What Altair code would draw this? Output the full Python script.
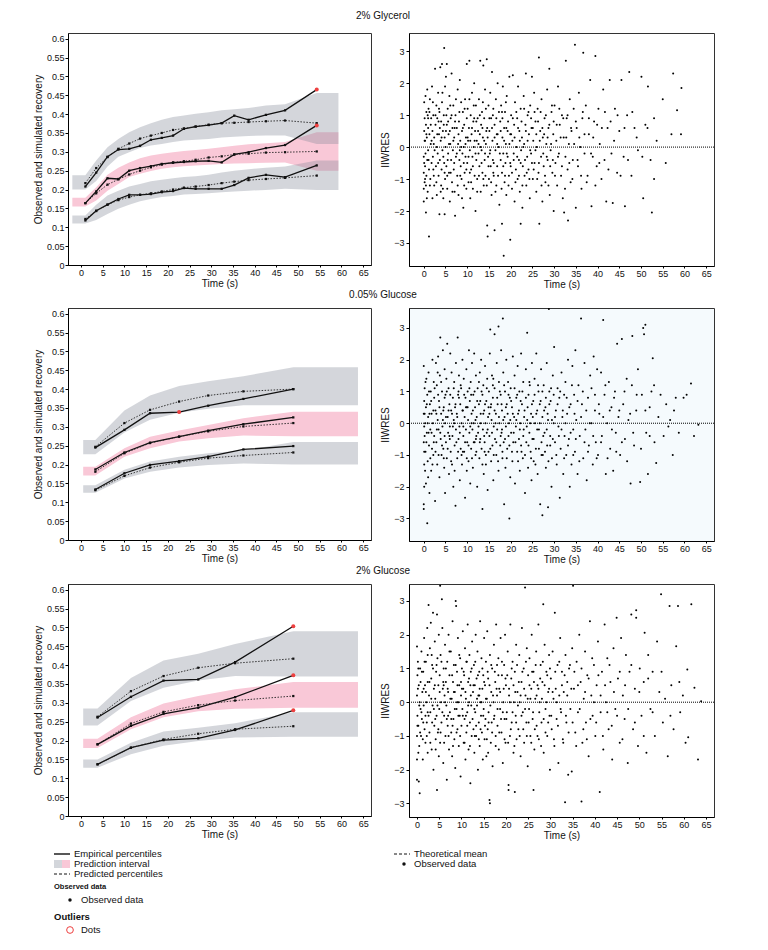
import altair as alt
import pandas as pd

FONT = "Liberation Sans"
PANEL_TITLES = ["2% Glycerol", "0.05% Glucose", "2% Glucose"]

# ---------------- VPC panel 1 : 2% Glycerol ----------------
G_BINS = [1.0, 3.5, 6.1, 8.6, 11.1, 13.6, 16.1, 18.6, 21.2, 23.7, 26.4, 29.4, 32.4, 35.3, 38.6, 42.6, 47.0, 54.3]
G_EDGES = [-2.0, 59.3]
G_EMP_HI = [0.208, 0.245, 0.287, 0.306, 0.308, 0.316, 0.332, 0.337, 0.343, 0.361, 0.367, 0.371, 0.376, 0.396, 0.385, 0.398, 0.410, 0.465]
G_PRED_HI = [0.217, 0.257, 0.286, 0.308, 0.322, 0.335, 0.343, 0.350, 0.358, 0.362, 0.367, 0.372, 0.376, 0.377, 0.379, 0.381, 0.383, 0.376]
G_EMP_MED = [0.164, 0.195, 0.230, 0.228, 0.250, 0.257, 0.262, 0.268, 0.271, 0.273, 0.275, 0.276, 0.272, 0.293, 0.299, 0.310, 0.318, 0.370]
G_PRED_MED = [0.164, 0.190, 0.213, 0.227, 0.240, 0.250, 0.259, 0.266, 0.272, 0.275, 0.279, 0.285, 0.288, 0.293, 0.295, 0.298, 0.299, 0.301]
G_EMP_LO = [0.118, 0.144, 0.160, 0.175, 0.186, 0.186, 0.188, 0.193, 0.196, 0.204, 0.202, 0.202, 0.202, 0.212, 0.231, 0.239, 0.233, 0.264]
G_PRED_LO = [0.122, 0.143, 0.160, 0.172, 0.180, 0.186, 0.190, 0.195, 0.200, 0.205, 0.208, 0.212, 0.217, 0.221, 0.225, 0.228, 0.231, 0.237]
G_PI_HI_LO = [0.200, 0.223, 0.261, 0.287, 0.299, 0.310, 0.317, 0.321, 0.326, 0.330, 0.332, 0.334, 0.338, 0.340, 0.342, 0.343, 0.343, 0.321]
G_PI_HI_HI = [0.238, 0.277, 0.312, 0.334, 0.352, 0.365, 0.376, 0.385, 0.392, 0.396, 0.401, 0.405, 0.410, 0.413, 0.416, 0.423, 0.426, 0.456]
G_PI_MED_LO = [0.155, 0.171, 0.197, 0.215, 0.233, 0.242, 0.249, 0.255, 0.259, 0.262, 0.264, 0.266, 0.268, 0.269, 0.270, 0.271, 0.272, 0.250]
G_PI_MED_HI = [0.178, 0.206, 0.239, 0.258, 0.272, 0.283, 0.290, 0.295, 0.299, 0.302, 0.305, 0.308, 0.312, 0.316, 0.320, 0.323, 0.326, 0.352]
G_PI_LO_LO = [0.110, 0.119, 0.135, 0.149, 0.160, 0.169, 0.175, 0.180, 0.183, 0.187, 0.188, 0.190, 0.193, 0.195, 0.197, 0.199, 0.202, 0.199]
G_PI_LO_HI = [0.131, 0.160, 0.184, 0.197, 0.208, 0.215, 0.222, 0.226, 0.230, 0.233, 0.235, 0.239, 0.245, 0.250, 0.254, 0.258, 0.261, 0.277]
G_OUTLIERS = [(54.3, 0.465), (54.3, 0.370)]

# ---------------- VPC panel 2 : 0.05% Glucose ----------------
L_BINS = [3.3, 10.0, 15.9, 22.6, 29.3, 37.4, 48.9]
L_EDGES = [0.5, 63.8]
L_EMP_HI = [0.245, 0.292, 0.336, 0.339, 0.356, 0.374, 0.400]
L_PRED_HI = [0.247, 0.310, 0.345, 0.367, 0.383, 0.394, 0.400]
L_EMP_MED = [0.187, 0.232, 0.258, 0.274, 0.290, 0.307, 0.325]
L_PRED_MED = [0.181, 0.230, 0.257, 0.274, 0.288, 0.301, 0.310]
L_EMP_LO = [0.134, 0.177, 0.199, 0.209, 0.221, 0.240, 0.249]
L_PRED_LO = [0.132, 0.170, 0.192, 0.206, 0.217, 0.224, 0.232]
L_PI_HI_LO = [0.227, 0.285, 0.319, 0.337, 0.348, 0.357, 0.357]
L_PI_HI_HI = [0.265, 0.343, 0.383, 0.408, 0.421, 0.434, 0.458]
L_PI_MED_LO = [0.171, 0.221, 0.243, 0.261, 0.270, 0.277, 0.275]
L_PI_MED_HI = [0.194, 0.243, 0.274, 0.290, 0.305, 0.323, 0.340]
L_PI_LO_LO = [0.125, 0.163, 0.181, 0.192, 0.199, 0.203, 0.200]
L_PI_LO_HI = [0.145, 0.186, 0.208, 0.221, 0.230, 0.237, 0.260]
L_OUTLIERS = [(22.6, 0.339)]

# ---------------- VPC panel 3 : 2% Glucose ----------------
H_BINS = [3.8, 11.5, 19.0, 27.0, 35.5, 48.9]
H_EDGES = [0.5, 63.8]
H_EMP_HI = [0.261, 0.316, 0.359, 0.362, 0.408, 0.503]
H_PRED_HI = [0.263, 0.331, 0.371, 0.393, 0.405, 0.417]
H_EMP_MED = [0.190, 0.239, 0.271, 0.287, 0.315, 0.373]
H_PRED_MED = [0.190, 0.245, 0.276, 0.294, 0.306, 0.318]
H_EMP_LO = [0.137, 0.181, 0.201, 0.206, 0.228, 0.280]
H_PRED_LO = [0.137, 0.181, 0.203, 0.218, 0.230, 0.238]
H_PI_HI_LO = [0.240, 0.305, 0.340, 0.359, 0.371, 0.370]
H_PI_HI_HI = [0.285, 0.366, 0.412, 0.430, 0.456, 0.490]
H_PI_MED_LO = [0.180, 0.230, 0.262, 0.278, 0.284, 0.287]
H_PI_MED_HI = [0.205, 0.262, 0.298, 0.318, 0.336, 0.355]
H_PI_LO_LO = [0.128, 0.164, 0.186, 0.199, 0.208, 0.210]
H_PI_LO_HI = [0.150, 0.194, 0.224, 0.234, 0.246, 0.275]
H_OUTLIERS = [(48.9, 0.503), (48.9, 0.373), (48.9, 0.280)]

# ---------------- IIWRES residuals (time, residual) ----------------
G_RES = [
(0.0,-0.3),(0.0,-0.8),(0.0,-1.3),(0.0,-1.7),(0.1,0.5),(0.1,-0.5),(0.1,1.4),(0.2,0.9),(0.2,-1.1),(0.3,0.2),(0.3,-0.6),(0.4,1.6),(0.4,-0.2),(0.5,0.7),(0.5,-2.05),(0.6,-0.9),(0.6,1.1),(0.7,0.3),(0.8,-0.4),(0.8,1.8),(0.9,-1.4),(1.0,0.6),(1.0,-0.1),(1.1,1.2),(1.2,-2.8),(1.2,-0.7),(1.3,0.4),(1.4,1.5),(1.5,-1.0),(1.6,0.1),(1.7,0.9),(1.8,-0.5),(1.9,1.9),(2.0,-1.6),(2.0,0.5),(2.1,-0.3),(2.2,1.0),(2.3,-0.9),(2.4,0.3),(2.4,-1.2),
(2.6,2.45),(2.7,0.7),(2.8,-0.6),(2.9,1.3),(3.0,-1.5),(3.0,0.0),(3.1,0.9),(3.2,-0.2),(3.3,1.7),(3.4,-0.9),(3.5,0.4),(3.6,-2.1),(3.6,1.1),(3.7,-0.4),(3.8,2.5),(3.9,0.2),(4.0,-1.2),(4.0,0.8),(4.1,-0.7),(4.2,2.6),(4.2,1.4),(4.3,-0.1),(4.4,0.5),(4.5,-1.6),(4.6,1.0),(4.7,3.1),(4.7,-0.5),(4.8,-2.1),(4.8,0.3),(4.9,1.9),(4.9,-1.0),
(5.0,0.0),(5.1,2.2),(5.2,-0.6),(5.3,2.6),(5.3,0.7),(5.4,-1.3),(5.5,1.2),(5.6,-0.2),(5.7,0.4),(5.8,-0.8),(5.9,1.6),(6.0,-1.7),(6.1,0.1),(6.2,0.9),(6.3,-0.4),(6.4,2.3),(6.5,-1.1),(6.6,0.6),(6.7,-0.1),(6.8,1.3),(6.9,-0.7),(7.0,0.3),(7.1,-1.4),(7.2,-2.15),(7.3,1.0),(7.4,-0.3),
(7.6,0.6),(7.7,-0.9),(7.8,1.8),(7.9,0.1),(8.0,-1.5),(8.1,0.8),(8.2,-0.4),(8.3,2.1),(8.4,0.2),(8.5,-0.6),(8.6,1.4),(8.7,-1.0),(8.8,0.5),(8.9,-0.2),(9.0,1.1),(9.1,-1.9),(9.2,0.0),(9.3,0.7),(9.4,-0.8),(9.5,1.5),(9.6,-0.3),(9.7,0.3),(9.8,-1.3),(9.9,0.9),(9.9,2.6),
(10.0,-0.5),(10.1,1.2),(10.2,0.2),(10.3,-1.1),(10.4,0.6),(10.5,2.7),(10.6,-0.1),(10.7,-1.6),(10.8,1.0),(10.9,-0.7),(11.0,0.4),(11.1,1.7),(11.2,-0.3),(11.3,-1.3),(11.4,0.8),(11.5,0.0),(11.6,2.0),(11.7,-0.9),(11.8,0.5),(11.9,-2.0),(12.0,1.3),(12.1,-0.4),(12.2,0.2),(12.3,-1.0),(12.4,0.9),
(12.6,-0.2),(12.7,1.5),(12.8,-0.6),(12.9,0.4),(13.0,2.7),(13.1,-1.4),(13.2,0.7),(13.3,-0.1),(13.4,1.1),(13.5,-0.8),(13.6,0.3),(13.7,2.55),(13.8,-1.2),(13.9,0.9),(14.0,-0.4),(14.1,1.8),(14.2,-0.9),(14.3,0.1),(14.5,2.75),(14.6,-2.45),(14.6,0.6),(14.7,-2.8),(14.8,-0.3),(14.9,1.3),
(15.0,-1.0),(15.1,0.5),(15.2,-0.2),(15.3,1.7),(15.4,-0.6),(15.5,0.9),(15.6,-1.5),(15.7,2.35),(15.8,0.2),(15.9,-0.4),(16.0,1.2),(16.1,-0.9),(16.3,-2.6),(16.3,0.7),(16.5,-0.1),(16.6,1.5),(16.7,-1.2),(16.8,0.4),(16.9,-0.6),(17.0,2.0),(17.2,0.0),(17.4,-1.8),
(17.6,0.8),(17.7,-0.4),(17.8,1.3),(18.0,-2.4),(18.0,-0.8),(18.1,0.3),(18.2,1.9),(18.3,-0.2),(18.4,-3.4),(18.5,0.6),(18.6,-1.1),(18.7,1.1),(18.8,-0.5),(18.9,0.1),(19.0,-1.5),(19.1,1.6),(19.3,-0.3),(19.4,0.8),(19.6,-0.9),(19.7,2.2),(19.9,-2.9),(19.9,0.4),
(20.0,-0.6),(20.1,1.0),(20.3,-1.3),(20.4,0.2),(20.5,2.25),(20.7,-0.2),(20.8,0.7),(20.9,-1.7),(21.0,1.4),(21.2,-0.7),(21.3,0.0),(21.5,0.9),(21.6,-1.0),(21.7,1.9),(21.9,-0.4),(22.0,0.5),(22.1,-1.4),(22.3,-2.4),(22.3,1.2),(22.4,-0.1),
(22.6,0.3),(22.7,-1.9),(22.8,-0.6),(23.0,1.6),(23.1,0.1),(23.2,-0.9),(23.4,0.7),(23.5,2.3),(23.6,-1.2),(23.8,-0.3),(23.9,1.0),(24.1,-0.7),(24.2,0.4),(24.4,-1.6),(24.5,1.3),(24.7,-0.2),(24.8,0.6),(24.9,2.2),
(25.1,-1.0),(25.2,0.2),(25.4,1.7),(25.5,-0.5),(25.7,0.8),(25.9,-1.4),(26.0,0.0),(26.2,1.2),(26.4,-0.8),(26.5,2.8),(26.6,-2.4),(26.8,0.5),(27.0,-0.3),(27.1,1.5),(27.3,-1.7),(27.4,0.3),
(27.6,-0.6),(27.8,0.9),(28.0,-1.1),(28.2,0.1),(28.4,1.8),(28.5,-0.4),(28.7,0.6),(28.9,2.45),(29.0,-1.5),(29.2,-0.1),(29.4,1.1),(29.6,-0.8),(29.8,0.4),(29.9,-2.0),
(30.1,1.3),(30.3,-0.5),(30.5,0.2),(30.7,-1.2),(30.9,1.9),(31.1,-0.2),(31.3,0.7),(31.6,-0.9),(31.8,1.0),(32.0,-1.6),(32.2,0.3),(32.3,-2.05),
(32.6,-0.3),(32.7,2.7),(32.9,0.9),(33.1,-0.7),(33.2,-2.3),(33.4,0.1),(33.6,1.5),(33.8,-1.1),(34.0,0.5),(34.3,-0.4),(34.5,1.2),(34.8,3.2),
(35.0,-1.9),(35.2,0.6),(35.5,-0.6),(35.7,1.7),(36.0,0.0),(36.3,-1.3),(36.5,0.9),(36.7,2.95),(37.0,-0.2),(37.3,1.3),
(37.7,-0.9),(38.0,0.4),(38.3,2.1),(38.6,-1.85),(38.9,-0.3),(39.2,0.8),(39.5,2.85),(39.8,-0.6),
(40.2,1.2),(40.5,0.1),(40.9,-1.0),(41.3,1.8),(41.6,-0.4),(42.0,-1.7),(42.3,0.6),(42.8,2.1),(43.2,-0.2),(43.5,-1.75),(44.0,1.2),(44.5,-0.8),
(45.0,0.5),(45.5,2.1),(46.0,-0.3),(46.3,-1.85),(46.8,1.0),(47.3,2.35),(47.8,-0.9),(48.5,0.6),(49.3,-0.1),
(50.1,2.2),(50.5,-1.6),(51.0,0.7),(51.6,1.9),(52.2,-0.4),(52.5,-2.05),(53.0,-1.0),(53.6,0.2),(55.0,1.5),(55.7,-0.5),(57.0,0.4),(57.4,2.3),(58.3,1.15),(59.2,0.4),(59.3,1.85),
]
G_RES_CORE = [
(0.2,0.2),(0.3,-1.0),(0.6,0.4),(0.7,-1.6),(0.9,1.0),(1.1,-0.4),(1.3,1.1),(1.4,-1.2),(1.6,0.7),(1.8,0.2),(2.1,1.4),(2.2,-0.7),(2.5,-0.1),(2.7,1.0),(2.9,-1.1),(3.1,0.4),(3.3,-0.5),(3.5,1.2),(3.7,0.6),(3.9,-1.4),(4.1,0.3),(4.3,1.7),(4.5,-0.3),(4.6,0.7),(4.8,-0.8),(1.0,0.9),(2.3,0.1),(3.4,0.8),(4.4,-1.3),(0.5,-1.2),
(5.1,0.5),(5.2,1.0),(5.4,-0.9),(5.6,0.8),(5.8,0.1),(6.0,0.5),(6.2,-0.8),(6.4,1.0),(6.6,-1.4),(6.8,0.2),(7.0,-0.5),(7.2,0.8),(7.4,1.5),(7.6,-0.2),(7.8,-1.2),(8.0,0.4),(8.2,1.1),(8.4,-0.9),(8.6,0.0),(8.8,-1.6),(9.0,0.6),(9.2,-0.5),(9.4,1.2),(9.6,0.1),(9.8,-0.7),(6.1,1.3),(7.1,0.6),(8.3,-0.1),(9.3,-1.2),(5.5,-0.4),
(10.1,0.3),(10.3,-0.3),(10.5,1.5),(10.7,0.2),(10.9,-1.1),(11.1,0.6),(11.3,-0.6),(11.5,1.3),(11.7,0.2),(11.9,-0.2),(12.1,0.8),(12.3,-1.4),(12.5,0.5),(12.7,-0.9),(12.9,1.0),(13.1,0.0),(13.3,-0.5),(13.5,0.6),(13.7,-1.0),(13.9,0.2),(14.1,-0.2),(14.3,1.2),(14.5,-1.2),(14.7,0.3),(14.9,-0.6),(10.6,-0.8),(11.6,0.9),(12.6,0.1),(13.6,1.4),(14.4,0.5),
(15.1,0.9),(15.3,-0.1),(15.5,-1.1),(15.7,0.6),(15.9,1.0),(16.1,-0.5),(16.3,0.3),(16.5,-1.4),(16.7,0.9),(16.9,0.1),(17.1,-0.9),(17.3,1.1),(17.5,-0.2),(17.7,0.5),(17.9,-1.3),(18.1,0.9),(18.3,-0.6),(18.5,0.2),(18.7,-0.9),(18.9,1.4),(19.1,-0.2),(19.3,0.5),(19.5,-1.2),(19.7,0.1),(19.9,-0.5),(16.0,-0.8),(17.0,0.4),(18.0,1.1),(19.0,0.6),
(20.1,0.4),(20.3,-0.8),(20.5,0.9),(20.7,-0.4),(20.9,0.3),(21.1,-1.1),(21.3,1.1),(21.5,-0.3),(21.7,0.6),(21.9,-0.9),(22.1,0.2),(22.3,-0.5),(22.5,0.8),(22.7,-1.2),(22.9,0.0),(23.1,1.2),(23.3,-0.4),(23.5,0.5),(23.7,-0.8),(23.9,0.2),(24.1,1.1),(24.3,-1.0),(24.5,-0.1),(24.7,0.9),(24.9,-0.5),
(25.1,0.6),(25.3,-0.7),(25.5,1.1),(25.7,-0.1),(25.9,0.4),(26.1,-1.0),(26.3,0.8),(26.5,-0.5),(26.7,0.2),(26.9,1.1),(27.1,-1.2),(27.3,0.6),(27.5,-0.2),(27.7,0.4),(27.9,-0.9),(28.1,1.0),(28.3,-0.3),(28.5,0.3),(28.7,-1.2),(28.9,0.7),(29.1,-0.6),(29.3,0.1),(29.5,1.3),(29.7,-0.4),(29.9,0.8),
(30.2,-0.9),(30.6,0.7),(30.9,-0.3),(31.2,1.2),(31.5,0.3),(31.8,-0.6),(32.1,0.9),(32.5,-1.3),(32.8,0.3),(33.1,1.0),(33.5,-0.5),(33.9,0.6),(34.2,-1.0),(34.6,0.1),(35.0,0.8),(35.4,-0.4),(35.8,0.3),(36.2,-0.9),(36.6,1.1),(37.0,0.4),(37.5,-1.1),(38.0,0.9),(38.5,-0.2),(39.0,0.3),(39.5,-1.2),(39.9,0.7),
(40.4,-0.5),(41.0,0.6),(41.7,1.1),(42.5,-0.7),(43.0,0.8),(43.8,0.2),(44.6,1.0),(45.3,-0.9),(46.2,0.6),(47.0,-0.4),(48.0,1.1),(49.0,0.3),(50.3,-0.3),(51.5,0.6),(53.0,0.9),
]

L_RES = [
(0.0,-2.7),(0.0,-2.55),(0.1,-2.0),(0.1,-1.3),(0.0,-0.6),(0.1,-0.1),(0.0,0.3),(0.1,0.7),(0.2,1.1),(0.0,1.8),(0.3,-1.5),(0.3,0.0),(0.4,-0.9),(0.5,0.5),(0.5,-1.9),(0.6,1.4),(0.7,-0.3),(0.8,-3.15),(0.8,0.9),(0.9,-1.2),(1.0,0.2),(1.1,1.6),(1.2,-0.7),(1.3,-2.2),(1.4,0.6),(1.5,-0.2),(1.6,1.0),(1.7,-1.5),(1.8,0.3),(1.9,-0.8),(2.0,2.0),(2.1,0.0),(2.2,-1.0),(2.3,1.3),(2.4,-0.4),(2.4,0.8),
(2.6,-2.45),(2.7,0.4),(2.8,1.9),(2.9,-0.6),(3.0,1.2),(3.1,-1.3),(3.2,0.1),(3.3,2.1),(3.4,-0.2),(3.5,0.7),(3.6,-1.7),(3.7,1.5),(3.8,2.7),(3.9,-0.5),(4.0,0.3),(4.1,-1.0),(4.2,1.0),(4.3,-0.1),(4.4,2.3),(4.5,-0.8),(4.6,0.5),(4.7,-1.4),(4.8,1.7),(4.9,-2.2),(4.9,0.0),(4.8,-0.4),
(5.0,0.9),(5.1,-0.6),(5.2,1.4),(5.3,-1.1),(5.4,2.5),(5.5,0.2),(5.6,-0.3),(5.7,1.1),(5.8,-1.6),(5.9,0.6),(6.0,-0.1),(6.1,2.2),(6.2,-0.9),(6.3,0.4),(6.4,1.6),(6.5,-1.3),(6.6,-0.4),(6.7,0.8),(6.8,-2.0),(6.9,0.1),(7.0,1.3),(7.1,-0.7),(7.2,0.5),(7.3,-2.6),(7.4,-0.2),(7.4,1.9),
(7.6,0.3),(7.7,-1.1),(7.8,2.7),(7.9,0.9),(8.0,-0.5),(8.1,1.5),(8.2,-0.1),(8.3,-1.8),(8.4,0.6),(8.5,-0.8),(8.6,1.1),(8.7,0.0),(8.8,-1.3),(8.9,2.0),(9.0,0.4),(9.1,-0.4),(9.2,1.4),(9.3,-0.9),(9.4,0.2),(9.5,-2.35),(9.6,0.8),(9.7,-0.2),(9.8,1.7),(9.9,-1.5),(9.9,0.5),
(10.0,-0.6),(10.1,1.0),(10.2,0.1),(10.3,-1.2),(10.4,2.3),(10.5,-0.3),(10.6,0.7),(10.7,-1.9),(10.8,1.3),(10.9,-0.8),(11.0,0.3),(11.1,1.9),(11.2,-0.2),(11.3,-1.4),(11.4,0.9),(11.5,0.0),(11.6,2.2),(11.7,-0.6),(11.8,0.5),(11.9,-1.0),(12.0,1.5),(12.1,-0.4),(12.2,0.2),(12.3,-2.0),(12.4,1.1),
(12.6,-0.1),(12.7,0.6),(12.8,-1.1),(12.9,1.6),(13.0,-0.5),(13.1,0.3),(13.2,2.0),(13.3,-0.8),(13.5,-2.7),(13.5,0.9),(13.6,-0.2),(13.7,1.2),(13.8,-1.6),(13.9,0.4),(14.0,-0.6),(14.1,1.8),(14.2,0.0),(14.3,-1.3),(14.4,0.7),(14.5,-0.3),(14.6,1.4),(14.7,-2.1),(14.8,0.2),(14.9,-0.9),
(15.0,1.0),(15.1,-0.4),(15.2,2.2),(15.3,2.95),(15.4,0.5),(15.5,-1.2),(15.6,0.1),(15.7,1.5),(15.8,-0.7),(15.9,0.8),(16.0,-1.8),(16.1,-0.1),(16.3,2.8),(16.3,1.1),(16.4,-0.5),(16.6,0.3),(16.7,-1.0),(16.8,1.9),(16.9,-0.2),(17.0,0.6),(17.2,3.05),(17.2,-1.5),(17.3,1.3),(17.4,0.0),
(17.6,-0.7),(17.7,0.9),(17.8,2.3),(17.9,-0.3),(18.0,0.4),(18.1,-1.1),(18.2,3.3),(18.3,1.6),(18.4,-0.6),(18.5,-2.55),(18.6,0.2),(18.7,1.0),(18.8,-1.4),(18.9,-0.1),(19.0,2.0),(19.1,0.6),(19.2,-0.8),(19.4,1.3),(19.5,-0.4),(19.6,0.0),(19.7,-3.0),(19.8,0.8),(19.9,-1.7),
(20.0,1.1),(20.1,-0.3),(20.3,0.5),(20.4,-1.2),(20.5,2.1),(20.6,-0.6),(20.8,0.2),(20.9,1.5),(21.0,-1.9),(21.2,-0.1),(21.3,0.8),(21.5,-0.9),(21.6,1.8),(21.7,0.3),(21.9,-0.5),(22.0,1.0),(22.1,-1.5),(22.2,0.0),(22.4,2.2),(22.4,-0.7),
(22.6,0.6),(22.8,-1.1),(22.9,1.3),(23.0,-0.2),(23.2,0.4),(23.3,-2.2),(23.5,1.7),(23.6,-0.6),(23.8,2.85),(23.8,0.1),(24.0,-1.4),(24.1,0.9),(24.3,-0.3),(24.4,1.2),(24.6,-0.9),(24.7,0.3),(24.8,-1.8),(24.9,1.9),
(25.0,-0.5),(25.2,0.7),(25.3,-1.2),(25.5,1.4),(25.6,0.0),(25.8,-0.8),(25.9,2.2),(26.1,0.4),(26.2,-1.6),(26.4,1.0),(26.5,-0.2),(26.7,0.6),(26.8,-2.55),(27.0,1.7),(27.1,-0.6),(27.3,-2.9),(27.3,0.2),(27.4,-1.0),
(27.6,1.2),(27.8,-0.3),(28.0,0.5),(28.1,-1.4),(28.3,1.9),(28.4,-0.7),(28.6,-2.65),(28.6,0.1),(28.8,3.6),(28.9,1.0),(29.1,-0.4),(29.2,0.7),(29.4,-2.0),(29.5,-1.1),(29.7,1.5),(29.9,0.0),
(30.0,2.4),(30.2,-0.6),(30.4,0.4),(30.6,-1.3),(30.8,1.1),(31.0,-0.1),(31.2,0.8),(31.3,-2.35),(31.5,-0.8),(31.7,1.6),(31.9,0.2),(32.1,-1.6),(32.3,0.9),(32.4,-0.4),
(32.6,1.3),(32.8,-1.0),(33.0,0.3),(33.2,2.0),(33.4,-0.5),(33.6,-2.0),(33.8,0.6),(34.0,-1.3),(34.2,1.8),(34.4,-0.2),(34.6,0.9),(34.8,-0.9),(34.9,2.3),
(35.1,0.1),(35.4,-1.6),(35.6,1.2),(35.9,-0.4),(36.2,3.3),(36.4,0.6),(36.7,-1.1),(37.0,1.9),(37.2,-0.2),(37.5,-1.8),(37.8,0.8),(38.0,-0.7),(38.3,1.5),(38.6,0.0),(38.9,-1.3),(39.1,2.1),(39.4,0.4),(39.6,-0.6),(39.9,1.7),
(40.1,-1.0),(40.4,0.3),(40.8,1.6),(41.0,-0.4),(41.3,3.25),(41.6,0.9),(41.9,-1.6),(42.2,0.0),(42.6,1.3),(42.9,-0.8),(43.2,0.5),(43.6,-1.5),(44.0,1.0),(44.2,-0.3),(44.5,2.5),(44.8,0.2),
(45.2,-1.0),(45.6,2.65),(45.9,0.6),(46.3,-0.5),(46.7,1.4),(47.1,0.1),(47.6,-1.9),(47.9,1.2),(48.0,2.75),(48.4,-0.7),(48.9,0.4),(49.3,1.7),(49.8,-1.85),
(50.2,0.9),(50.5,3.0),(50.7,2.8),(51.0,3.1),(51.2,-0.3),(51.6,-1.6),(52.0,0.5),(52.4,1.0),(52.7,2.05),(53.1,-0.6),(53.5,-1.25),(54.0,0.2),(54.5,0.9),
(55.2,-0.4),(55.8,0.6),(56.3,-0.1),(56.7,0.1),(57.3,-1.0),(57.6,0.4),(58.0,0.8),(58.7,-0.3),(59.8,0.8),(60.5,0.9),(61.5,1.25),(62.2,-0.4),(63.2,-0.05),
]
L_RES_CORE = [
(0.1,-0.9),(0.2,0.3),(0.2,-0.4),(0.4,1.3),(0.6,-0.6),(0.7,0.6),(0.9,0.0),(1.0,-1.7),(1.2,1.0),(1.3,0.3),(1.5,-1.1),(1.7,0.7),(1.8,-0.3),(2.0,-1.3),(2.2,0.4),(2.3,-0.6),(2.5,1.1),(2.7,-0.9),(2.9,0.3),(3.0,-0.2),(3.2,1.6),(3.4,-1.0),(3.6,0.5),(3.8,-0.3),(4.0,1.3),(4.2,-0.7),(4.4,0.1),(4.6,-1.1),(4.8,0.8),(1.1,-0.3),(3.3,0.9),(4.5,0.4),
(5.1,0.2),(5.3,1.0),(5.5,-0.8),(5.7,0.4),(5.9,-0.4),(6.1,0.9),(6.3,-1.2),(6.5,0.3),(6.7,-0.1),(6.9,1.1),(7.1,-1.5),(7.3,0.6),(7.5,-0.6),(7.7,0.2),(7.9,-0.9),(8.1,0.8),(8.3,-0.3),(8.5,1.2),(8.7,-1.0),(8.9,0.4),(9.1,-0.1),(9.3,0.9),(9.5,-0.6),(9.7,0.5),(9.9,-1.1),(6.0,-0.5),(7.0,0.0),(8.0,1.0),(9.0,-0.9),
(10.1,0.5),(10.3,-0.7),(10.5,1.1),(10.7,-0.1),(10.9,0.9),(11.1,-1.1),(11.3,0.4),(11.5,-0.6),(11.7,1.0),(11.9,0.1),(12.1,-0.9),(12.3,0.7),(12.5,-0.3),(12.7,1.3),(12.9,-0.6),(13.1,0.0),(13.3,1.0),(13.5,-1.3),(13.7,0.3),(13.9,-0.4),(14.1,0.6),(14.3,-1.0),(14.5,1.1),(14.7,-0.2),(14.9,0.5),(11.0,0.0),(12.0,-0.5),(13.0,0.7),(14.0,-0.9),
(15.1,0.3),(15.3,-0.8),(15.5,0.6),(15.7,-0.3),(15.9,1.2),(16.1,-1.0),(16.3,0.4),(16.5,0.0),(16.7,-0.6),(16.9,0.8),(17.1,-1.2),(17.3,0.2),(17.5,1.0),(17.7,-0.4),(17.9,0.6),(18.1,-0.9),(18.3,0.1),(18.5,1.2),(18.7,-0.5),(18.9,0.5),(19.1,-1.1),(19.3,0.3),(19.5,0.9),(19.7,-0.7),(19.9,0.1),(16.0,1.4),(18.0,-0.2),
(20.1,0.7),(20.3,-0.9),(20.5,0.3),(20.7,-0.3),(20.9,1.1),(21.1,-0.6),(21.3,0.1),(21.5,0.9),(21.7,-1.2),(21.9,0.4),(22.1,-0.2),(22.3,0.7),(22.5,-0.9),(22.7,1.0),(22.9,-0.4),(23.1,0.2),(23.3,-1.0),(23.5,0.8),(23.7,-0.1),(23.9,0.5),(24.1,-0.7),(24.3,1.3),(24.5,0.0),(24.7,-1.1),(24.9,0.6),
(25.1,0.2),(25.3,-0.5),(25.5,0.9),(25.7,-1.3),(25.9,0.3),(26.1,-0.2),(26.3,1.2),(26.5,-0.8),(26.7,0.0),(26.9,0.7),(27.1,-1.0),(27.3,1.0),(27.5,-0.4),(27.7,0.4),(27.9,-0.9),(28.1,0.8),(28.3,-0.2),(28.5,0.3),(28.7,-1.2),(28.9,0.6),(29.1,-0.7),(29.3,1.1),(29.5,0.1),(29.7,-0.5),(29.9,0.9),
(30.2,0.2),(30.5,-1.0),(30.8,0.6),(31.1,-0.4),(31.4,1.0),(31.7,-0.2),(32.0,0.4),(32.3,-1.1),(32.6,0.0),(32.9,0.8),(33.2,-0.7),(33.5,0.5),(33.8,-0.3),(34.1,1.2),(34.4,-1.0),(34.7,0.3),(35.0,-0.5),(35.4,0.7),(35.8,-1.2),(36.2,0.2),(36.6,1.0),(37.0,-0.6),(37.4,0.4),(37.8,-0.9),(38.2,0.0),(38.6,1.1),(39.0,-0.4),(39.4,0.9),(39.8,-1.1),
(40.3,0.6),(40.8,-0.6),(41.3,0.2),(41.8,1.2),(42.3,-1.1),(42.8,0.4),(43.3,-0.2),(43.8,0.8),(44.3,-0.9),(45.0,0.4),(45.6,-0.6),(46.2,1.0),(46.8,-1.2),(47.5,0.3),(48.2,-0.3),(49.0,0.9),(50.0,-0.8),(51.0,0.4),(52.0,-0.4),(53.0,1.2),
]

H_RES = [
(0.0,-2.3),(0.0,-1.7),(0.0,-1.0),(0.1,-0.4),(0.0,0.2),(0.1,0.8),(0.2,1.2),(0.0,1.65),(0.4,-2.35),(0.6,-2.7),(0.3,-0.7),(0.4,0.5),(0.5,-1.3),(0.6,0.0),(0.7,1.0),(0.8,-0.2),(0.9,-1.0),(1.0,1.5),(1.1,-0.5),(1.2,0.3),(1.3,-1.7),(1.4,0.9),(1.5,-0.1),(1.6,1.9),(1.7,-0.8),(1.8,0.5),(1.9,-1.2),(2.0,1.2),(2.1,0.0),(2.2,-0.6),(2.3,2.2),(2.4,0.6),(2.4,-1.5),(2.4,-0.3),
(2.6,2.88),(2.7,0.2),(2.8,-0.9),(2.9,1.6),(3.0,-0.3),(3.1,2.35),(3.2,0.7),(3.3,-1.4),(3.4,1.1),(3.5,-0.1),(3.6,2.65),(3.7,-2.0),(3.8,0.4),(3.9,-0.7),(4.0,1.8),(4.1,0.1),(4.2,-1.1),(4.3,0.9),(4.4,-0.4),(4.5,-2.6),(4.5,2.6),(4.6,1.3),(4.7,-0.9),(4.8,0.5),(4.9,-1.6),(4.9,2.0),
(5.0,-0.2),(5.1,0.8),(5.2,3.45),(5.2,-1.2),(5.3,1.4),(5.4,0.0),(5.5,-0.6),(5.6,3.05),(5.7,2.2),(5.8,0.4),(5.9,-1.8),(6.0,1.0),(6.1,-0.4),(6.2,0.2),(6.3,1.7),(6.4,-1.0),(6.5,0.6),(6.6,-0.1),(6.7,-2.3),(6.8,1.2),(6.9,-0.7),(7.0,0.3),(7.1,2.0),(7.2,-1.4),(7.3,0.8),(7.4,-0.3),
(7.6,1.5),(7.7,-0.9),(7.8,0.1),(7.9,-1.6),(8.0,2.4),(8.1,0.6),(8.2,-0.5),(8.3,1.1),(8.4,-1.1),(8.5,0.3),(8.6,-1.95),(8.7,3.0),(8.8,2.85),(8.9,-0.2),(9.0,0.9),(9.1,-0.8),(9.2,1.9),(9.3,0.0),(9.4,-1.3),(9.5,0.5),(9.6,-0.4),(9.7,1.3),(9.8,-2.2),(9.9,0.2),
(10.0,-0.7),(10.1,1.0),(10.2,-0.2),(10.3,2.1),(10.4,0.4),(10.5,-1.2),(10.6,0.8),(10.7,-0.5),(10.8,1.6),(10.9,-1.7),(11.0,0.1),(11.1,-0.9),(11.2,1.2),(11.3,-0.3),(11.4,2.3),(11.5,0.6),(11.6,-1.4),(11.7,0.0),(11.8,1.4),(11.9,-0.6),(12.0,-2.4),(12.1,0.9),(12.2,-0.1),(12.3,-1.0),(12.4,1.8),
(12.6,0.3),(12.7,-0.8),(12.8,1.1),(12.9,-1.5),(13.0,0.5),(13.1,-0.3),(13.2,2.0),(13.3,-1.0),(13.4,0.7),(13.5,-0.1),(13.6,1.5),(13.7,-2.0),(13.8,0.2),(13.9,-0.6),(14.0,0.9),(14.1,-1.3),(14.2,2.4),(14.3,0.0),(14.4,-0.4),(14.5,1.3),(14.6,-0.9),(14.7,0.4),(14.8,-1.7),(14.9,0.8),
(15.0,-0.2),(15.1,1.9),(15.2,-1.1),(15.3,0.5),(15.4,-0.5),(15.5,1.2),(15.6,-1.6),(15.7,0.1),(15.8,2.1),(15.9,-0.8),(16.0,0.7),(16.1,-0.3),(16.3,-2.9),(16.4,-2.99),(16.4,1.4),(16.6,-1.2),(16.7,0.3),(16.8,-0.6),(16.9,1.0),(17.0,-1.9),(17.2,0.0),(17.3,1.7),(17.4,-0.4),
(17.6,0.6),(17.7,-1.0),(17.8,2.3),(18.0,0.2),(18.1,-0.7),(18.3,1.3),(18.4,-1.4),(18.5,0.4),(18.7,-0.2),(18.8,1.9),(19.0,-0.9),(19.1,0.8),(19.3,-1.8),(19.4,0.0),(19.6,1.1),(19.7,-0.5),(19.8,2.0),(19.9,-1.2),
(20.0,0.5),(20.2,-0.3),(20.4,1.5),(20.6,-2.6),(20.6,-2.45),(20.7,0.2),(20.9,-1.0),(21.0,2.3),(21.2,0.7),(21.3,-0.6),(21.5,1.2),(21.7,-1.5),(21.8,0.0),(22.0,-2.66),(22.0,0.9),(22.2,-0.4),(22.3,1.7),(22.4,-1.1),
(22.6,0.3),(22.8,-0.8),(23.0,1.4),(23.1,0.0),(23.3,-1.6),(23.5,0.6),(23.6,2.2),(23.8,-0.3),(24.0,1.0),(24.1,-1.2),(24.3,3.4),(24.4,0.2),(24.6,-0.6),(24.7,1.6),(24.9,-1.9),
(25.0,0.8),(25.2,-0.2),(25.3,1.3),(25.5,-1.0),(25.7,0.4),(25.8,2.0),(26.0,-0.5),(26.2,-2.6),(26.2,0.9),(26.4,-1.4),(26.6,0.1),(26.8,1.5),(26.9,-0.7),(27.1,0.5),(27.3,2.3),(27.4,-1.1),
(27.6,0.0),(27.8,1.1),(28.0,-0.6),(28.2,0.6),(28.4,2.9),(28.5,-1.5),(28.7,1.7),(28.9,-0.2),(29.1,0.9),(29.3,-1.0),(29.5,0.3),(29.7,1.4),(29.8,-0.4),(29.9,-2.0),
(30.1,0.7),(30.3,-0.8),(30.5,1.5),(30.7,0.1),(30.9,-1.3),(31.0,2.65),(31.2,0.4),(31.4,-0.5),(31.6,1.1),(31.8,-1.8),(32.0,0.2),(32.2,1.9),(32.4,-0.3),
(32.6,0.9),(32.8,-1.1),(33.0,0.3),(33.3,-2.96),(33.4,1.4),(33.6,-0.6),(33.8,0.6),(34.0,-2.15),(34.2,1.0),(34.5,-0.2),(34.8,-2.05),(34.9,1.6),
(35.1,3.45),(35.3,0.4),(35.6,-0.9),(35.9,1.2),(36.2,-0.3),(36.5,2.0),(36.8,0.6),(37.0,-2.94),(37.2,-1.2),(37.5,0.1),(37.8,1.5),(38.0,-0.6),(38.3,0.8),(38.6,-1.6),(38.9,2.4),(39.2,0.2),(39.5,-0.4),(39.8,1.1),
(40.1,-1.0),(40.4,0.5),(40.7,1.8),(41.1,-2.66),(41.3,-0.3),(41.6,0.9),(41.9,-1.4),(42.2,2.3),(42.5,0.0),(42.8,1.3),(43.1,-0.8),(43.5,0.6),(43.9,-1.7),(44.2,1.6),(44.6,-0.2),(44.9,2.5),
(45.2,0.7),(45.6,-1.2),(45.9,1.9),(46.3,0.2),(46.7,-0.5),(47.0,1.4),(47.4,-1.8),(47.8,0.9),(48.2,2.6),(48.6,-0.8),(49.0,0.4),(49.3,2.72),(49.3,2.5),(49.7,-1.3),
(50.1,1.0),(50.5,-0.4),(51.0,0.6),(51.2,2.06),(51.6,-1.5),(52.0,1.4),(52.5,-0.2),(53.0,0.9),(53.5,-1.0),(54.0,1.8),(54.5,0.3),(54.9,3.2),(55.3,-0.6),(55.8,0.1),
(56.4,-1.6),(56.8,2.85),(57.2,0.5),(57.7,-0.8),(58.3,1.66),(58.7,2.85),(59.2,-0.3),(59.8,0.2),(60.4,-1.2),(60.8,0.97),(61.0,-1.04),(61.7,2.9),(62.4,0.43),(63.2,-1.7),(63.9,0.03),
]
H_RES_CORE = [
(0.1,-0.7),(0.2,0.4),(0.3,-1.5),(0.3,1.0),(0.5,-0.1),(0.7,-0.9),(0.8,0.6),(1.0,-0.3),(1.1,0.9),(1.3,-1.1),(1.5,0.4),(1.7,1.2),(1.9,-0.4),(2.0,0.3),(2.2,-1.0),(2.4,1.4),(2.6,-0.4),(2.8,0.6),(3.0,-1.2),(3.2,0.1),(3.4,-0.6),(3.6,1.0),(3.8,-0.2),(4.0,0.5),(4.2,-1.4),(4.4,1.1),(4.6,-0.1),(4.8,-0.8),(1.4,-0.6),(3.3,1.4),(4.1,-0.5),
(5.1,0.3),(5.3,-0.9),(5.5,1.2),(5.7,-0.3),(5.9,0.6),(6.1,-1.2),(6.3,0.0),(6.5,1.0),(6.7,-0.5),(6.9,0.4),(7.1,-1.0),(7.3,1.5),(7.5,0.1),(7.7,-0.5),(7.9,0.8),(8.1,-1.3),(8.3,0.3),(8.5,-0.2),(8.7,1.1),(8.9,-0.9),(9.1,0.5),(9.3,-0.4),(9.5,1.4),(9.7,-1.0),(9.9,0.6),(6.0,0.5),(7.0,-0.4),(8.0,-0.7),(9.0,0.0),
(10.1,0.4),(10.3,-0.4),(10.5,0.9),(10.7,-1.2),(10.9,0.3),(11.1,1.2),(11.3,-0.7),(11.5,-0.1),(11.7,0.7),(11.9,-1.3),(12.1,0.2),(12.3,1.0),(12.5,-0.5),(12.7,0.5),(12.9,-0.2),(13.1,1.2),(13.3,-0.7),(13.5,0.1),(13.7,0.8),(13.9,-1.1),(14.1,0.4),(14.3,-0.8),(14.5,0.0),(14.7,1.0),(14.9,-0.4),(11.0,-0.4),(12.0,0.5),(13.0,-1.0),(14.0,0.2),
(15.1,0.6),(15.3,-0.7),(15.5,0.1),(15.7,-1.1),(15.9,0.9),(16.1,-0.6),(16.3,0.5),(16.5,-0.1),(16.7,1.1),(16.9,-0.9),(17.1,0.2),(17.3,-0.5),(17.5,0.9),(17.7,-1.3),(17.9,0.4),(18.1,-0.2),(18.3,0.8),(18.5,-0.9),(18.7,0.3),(18.9,-0.5),(19.1,1.2),(19.3,-0.3),(19.5,0.4),(19.7,-1.1),(19.9,0.7),(16.0,-1.5),(18.0,1.1),
(20.1,-0.5),(20.3,0.8),(20.5,-1.2),(20.7,0.4),(20.9,0.0),(21.1,-0.8),(21.3,1.0),(21.5,-0.3),(21.7,0.5),(21.9,-1.3),(22.1,0.3),(22.3,-0.6),(22.5,1.1),(22.7,-0.1),(22.9,0.6),(23.1,-1.0),(23.3,0.2),(23.5,-0.4),(23.7,0.9),(23.9,-0.8),(24.1,0.4),(24.3,-0.2),(24.5,1.2),(24.7,-1.0),(24.9,0.1),
(25.1,-0.6),(25.3,0.5),(25.5,0.1),(25.7,-1.2),(25.9,0.9),(26.1,-0.3),(26.3,0.6),(26.5,-0.8),(26.7,1.1),(26.9,0.2),(27.1,-1.0),(27.3,0.4),(27.5,-0.3),(27.7,0.7),(27.9,-1.3),(28.1,0.1),(28.3,1.2),(28.5,-0.5),(28.7,0.5),(28.9,-0.9),(29.1,0.0),(29.3,0.8),(29.5,-0.6),(29.7,0.4),(29.9,1.0),
(30.2,-0.4),(30.5,0.3),(30.8,-1.1),(31.1,0.9),(31.4,0.0),(31.7,-0.7),(32.0,1.2),(32.3,-0.2),(32.6,0.5),(32.9,-1.2),(33.2,0.8),(33.5,-0.4),(33.8,0.2),(34.1,-0.9),(34.4,1.1),(34.7,0.4),(35.0,-0.6),(35.4,0.9),(35.8,-1.3),(36.2,0.5),(36.6,-0.2),(37.0,1.0),(37.4,-0.8),(37.8,0.3),(38.2,-1.1),(38.6,0.7),(39.0,-0.5),(39.4,1.3),(39.8,0.0),
(40.3,-0.6),(40.8,0.8),(41.3,0.2),(41.8,-1.0),(42.3,0.5),(42.8,-0.3),(43.3,1.1),(43.8,-0.7),(44.3,0.3),(45.0,-0.4),(45.6,0.9),(46.2,-1.1),(46.8,0.5),(47.5,-0.2),(48.2,1.1),(49.0,-0.6),(50.0,0.3),(51.0,-1.0),(52.0,0.7),(53.0,-0.3),(55.0,0.9),(57.0,-0.4),(59.0,0.6),
]

X_TICKS = [0, 5, 10, 15, 20, 25, 30, 35, 40, 45, 50, 55, 60, 65]
Y_TICKS_VPC = [0, 0.05, 0.1, 0.15, 0.2, 0.25, 0.3, 0.35, 0.4, 0.45, 0.5, 0.55, 0.6]
Y_TICKS_RES = [-3, -2, -1, 0, 1, 2, 3]

# Legend entries: label, kind, column, row
LEG_LABELS = ["Empirical percentiles", "Prediction interval", "Predicted percentiles", "Observed data",
              "Observed data", "Outliers", "Dots", "Theoretical mean", "Observed data"]
LEG_KIND = ["solid", "band", "dash", "header", "dot", "header2", "ring", "dash", "dot2"]
LEG_COL = [0, 0, 0, 0, 0, 0, 0, 1, 1]
LEG_ROW = [0, 1, 2, 3.3, 4.6, 6.3, 7.6, 0, 1]

GREY = "#848a98"
GREY_OP = 0.35
PINK = "#f9c8d7"
RED = "#ee4040"

LW, LH = 303, 232
RW, RH = 305, 233


def band_df(bins, lo, hi, edges):
    xs = [edges[0]] + list(bins) + [edges[1]]
    los = [lo[0]] + list(lo) + [lo[-1]]
    his = [hi[0]] + list(hi) + [hi[-1]]
    return pd.DataFrame({"t": xs, "lo": los, "hi": his})


def lines_df(bins, series):
    rows = []
    for name, vals in series.items():
        for t, v in zip(bins, vals):
            rows.append({"t": t, "v": v, "s": name})
    return pd.DataFrame(rows)


def vpc_panel(bins, edges, emp, pred, pi_hi, pi_med, pi_lo, outliers):
    xs = alt.Scale(domain=[-3.0, 66.8], nice=False, zero=False)
    ys = alt.Scale(domain=[0, 0.615], nice=False, zero=False)
    xax = alt.Axis(values=X_TICKS, title="Time (s)", tickSize=2, labelPadding=1, titlePadding=1)
    yax = alt.Axis(values=Y_TICKS_VPC, title="Observed and simulated recovery", format="~g",
                   tickSize=3, labelPadding=1, titlePadding=3)
    X = alt.X("t:Q", scale=xs, axis=xax)

    def band(lohi, color, op):
        return alt.Chart(band_df(bins, lohi[0], lohi[1], edges)).mark_area(
            color=color, opacity=op, interpolate="linear").encode(
            x=X, y=alt.Y("lo:Q", scale=ys, axis=yax), y2="hi:Q")

    pink = band(pi_med, PINK, 1.0)
    g_hi = band(pi_hi, GREY, GREY_OP)
    g_lo = band(pi_lo, GREY, GREY_OP)

    emp_df = lines_df(bins, {"hi": emp[0], "med": emp[1], "lo": emp[2]})
    pred_df = lines_df(bins, {"hi": pred[0], "med": pred[1], "lo": pred[2]})
    Y = alt.Y("v:Q", scale=ys, axis=yax)
    emp_l = alt.Chart(emp_df).mark_line(color="#111", strokeWidth=1.3).encode(x=X, y=Y, detail="s:N")
    pred_l = alt.Chart(pred_df).mark_line(color="#222", strokeWidth=0.9, strokeDash=[1.5, 1.5]).encode(
        x=X, y=Y, detail="s:N")
    marks = alt.Chart(pd.concat([emp_df, pred_df])).mark_square(size=5, color="#111", opacity=1).encode(x=X, y=Y)
    out_df = pd.DataFrame({"t": [o[0] for o in outliers], "v": [o[1] for o in outliers]})
    out = alt.Chart(out_df).mark_circle(size=16, color=RED, opacity=1).encode(x=X, y=Y)
    return alt.layer(pink, g_hi, g_lo, emp_l, pred_l, marks, out).properties(width=LW, height=LH)


def res_panel(res, xdom, ydom, bg=None):
    df = pd.DataFrame({"t": [p[0] for p in res], "r": [p[1] for p in res]})
    xs = alt.Scale(domain=xdom, nice=False, zero=False)
    ys = alt.Scale(domain=ydom, nice=False, zero=False)
    xax = alt.Axis(values=X_TICKS, title="Time (s)", tickSize=2, labelPadding=1, titlePadding=1)
    yax = alt.Axis(values=Y_TICKS_RES, title="IIWRES", tickSize=3, labelPadding=2, titlePadding=3)
    pts = alt.Chart(df).mark_circle(size=4, color="black", opacity=1).encode(
        x=alt.X("t:Q", scale=xs, axis=xax), y=alt.Y("r:Q", scale=ys, axis=yax))
    zero = alt.Chart(pd.DataFrame({"r": [0]})).mark_rule(
        color="black", strokeWidth=1, strokeDash=[1, 1]).encode(y=alt.Y("r:Q", scale=ys, axis=yax))
    ch = alt.layer(pts, zero).properties(width=RW, height=RH)
    if bg:
        ch = ch.properties(view=alt.ViewBackground(fill=bg, stroke="#333"))
    return ch


def row(i, left, right, offset):
    return alt.hconcat(left, right, spacing=8, title=alt.TitleParams(
        PANEL_TITLES[i], anchor="middle", fontSize=10, font=FONT, fontWeight="normal",
        offset=offset, dx=9, color="#111"))


row1 = row(0,
           vpc_panel(G_BINS, G_EDGES, (G_EMP_HI, G_EMP_MED, G_EMP_LO), (G_PRED_HI, G_PRED_MED, G_PRED_LO),
                     (G_PI_HI_LO, G_PI_HI_HI), (G_PI_MED_LO, G_PI_MED_HI), (G_PI_LO_LO, G_PI_LO_HI), G_OUTLIERS),
           res_panel(G_RES + G_RES_CORE, [-3.4, 66.8], [-3.72, 3.57]), 12)
row2 = row(1,
           vpc_panel(L_BINS, L_EDGES, (L_EMP_HI, L_EMP_MED, L_EMP_LO), (L_PRED_HI, L_PRED_MED, L_PRED_LO),
                     (L_PI_HI_LO, L_PI_HI_HI), (L_PI_MED_LO, L_PI_MED_HI), (L_PI_LO_LO, L_PI_LO_HI), L_OUTLIERS),
           res_panel(L_RES + L_RES_CORE, [-3.4, 66.8], [-3.71, 3.63], bg="#f5fafd"), 7)
row3 = row(2,
           vpc_panel(H_BINS, H_EDGES, (H_EMP_HI, H_EMP_MED, H_EMP_LO), (H_PRED_HI, H_PRED_MED, H_PRED_LO),
                     (H_PI_HI_LO, H_PI_HI_HI), (H_PI_MED_LO, H_PI_MED_HI), (H_PI_LO_LO, H_PI_LO_HI), H_OUTLIERS),
           res_panel(H_RES + H_RES_CORE, [-1.8, 66.8], [-3.4, 3.5]), 8)

# ---------------- legend ----------------
leg = pd.DataFrame({"label": LEG_LABELS, "kind": LEG_KIND, "col": LEG_COL, "row": LEG_ROW})
lx = alt.X("col:Q", scale=alt.Scale(domain=[0, 1], range=[-14, 326]), axis=None)
ly = alt.Y("row:Q", scale=alt.Scale(domain=[0, 8], range=[12, 92]), axis=None)
base = alt.Chart(leg).encode(x=lx, y=ly)


def kinds(*k):
    return alt.FieldOneOfPredicate(field="kind", oneOf=list(k))


leg_layers = [
    base.transform_filter(kinds("solid")).mark_point(shape="stroke", size=256, strokeWidth=1.4,
                                                     color="#111", filled=False, opacity=1, xOffset=8),
    base.transform_filter(kinds("dash")).mark_point(shape="stroke", size=256, strokeWidth=1, color="#111",
                                                    filled=False, opacity=1, strokeDash=[3, 2], xOffset=8),
    base.transform_filter(kinds("band")).mark_square(size=64, color="#d3d6db", opacity=1, xOffset=4),
    base.transform_filter(kinds("band")).mark_square(size=64, color=PINK, opacity=1, xOffset=12),
    base.transform_filter(kinds("dot")).mark_circle(size=12, color="#111", opacity=1, xOffset=16),
    base.transform_filter(kinds("dot2")).mark_circle(size=12, color="#111", opacity=1, xOffset=10),
    base.transform_filter(kinds("ring")).mark_point(size=45, color=RED, filled=False, strokeWidth=1,
                                                    opacity=1, xOffset=16),
    base.transform_filter(kinds("solid", "band", "dash", "dot2")).mark_text(
        align="left", baseline="middle", dx=20, fontSize=9.5, font=FONT, color="#111").encode(text="label:N"),
    base.transform_filter(kinds("dot", "ring")).mark_text(
        align="left", baseline="middle", dx=27, fontSize=9.5, font=FONT, color="#111").encode(text="label:N"),
    base.transform_filter(kinds("header")).mark_text(
        align="left", baseline="middle", dx=0, fontSize=7.5, font=FONT, fontWeight="bold",
        color="#111").encode(text="label:N"),
    base.transform_filter(kinds("header2")).mark_text(
        align="left", baseline="middle", dx=0, fontSize=9.5, font=FONT, fontWeight="bold",
        color="#111").encode(text="label:N"),
]
legend = alt.layer(*leg_layers).properties(width=680, height=92,
                                           view=alt.ViewBackground(stroke="transparent"))

chart = alt.vconcat(row1, row2, row3, legend, spacing=0).properties(
    padding={"left": 24, "top": 2, "right": 5, "bottom": 5}
).configure_view(stroke="#333", strokeWidth=1).configure_axis(
    domainColor="black", domainWidth=1, tickColor="black", grid=False,
    labelFont=FONT, titleFont=FONT, labelFontSize=9, titleFontSize=10,
    titleFontWeight="normal", labelColor="#111", titleColor="#111"
)

chart.save("out.html", embed_options={"renderer": "svg", "actions": False})
